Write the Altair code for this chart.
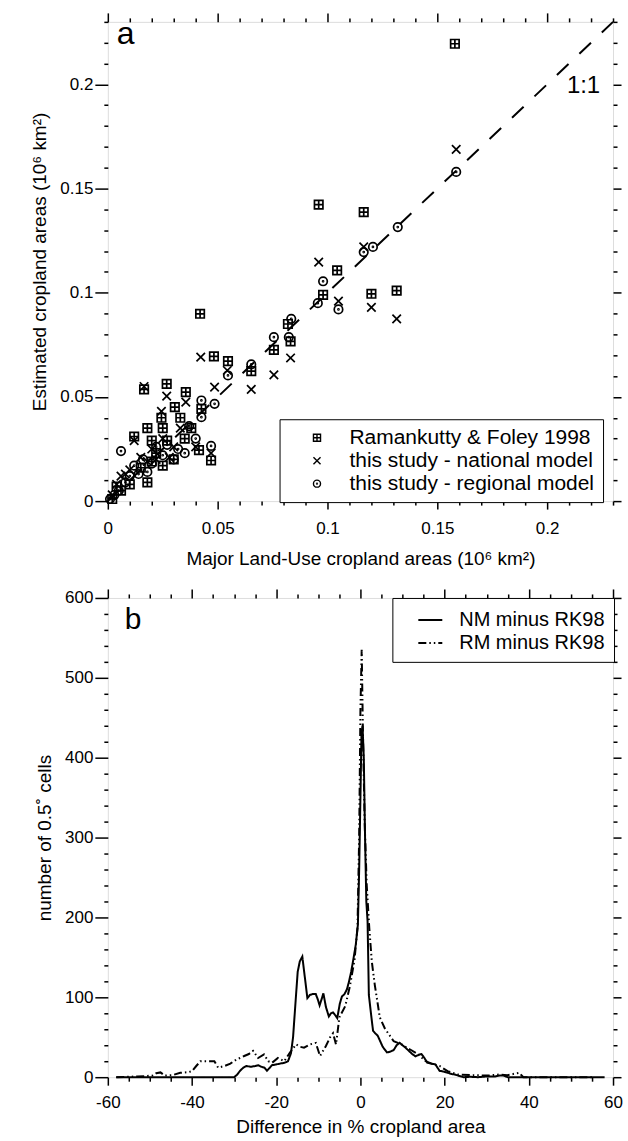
import altair as alt
import pandas as pd

FONT = "Liberation Sans"

# ---------------- Panel a data ----------------
rk_x = [0.158, 0.096, 0.1165, 0.1044, 0.1315, 0.12, 0.098, 0.042, 0.082, 0.0832,
        0.0756, 0.0483, 0.0547, 0.0653, 0.0165, 0.0268, 0.0355, 0.0426, 0.0305, 0.0244,
        0.012, 0.018, 0.02, 0.025, 0.027, 0.0415, 0.047, 0.03, 0.02, 0.018,
        0.01, 0.006, 0.004, 0.002, 0.025, 0.022, 0.035, 0.038, 0.015, 0.033]
rk_y = [0.2195, 0.1423, 0.1387, 0.1107, 0.101, 0.0995, 0.099, 0.0899, 0.085, 0.0767,
        0.0726, 0.0695, 0.0672, 0.0624, 0.0536, 0.0563, 0.0523, 0.0443, 0.0451, 0.040,
        0.031, 0.035, 0.029, 0.035, 0.029, 0.0245, 0.0195, 0.02, 0.019, 0.009,
        0.008, 0.005, 0.007, 0.001, 0.017, 0.023, 0.030, 0.035, 0.016, 0.040]

nat_x = [0.1586, 0.096, 0.1165, 0.105, 0.12, 0.1315, 0.0832, 0.0423, 0.0544, 0.0756,
         0.0486, 0.0653, 0.0268, 0.0355, 0.0244, 0.0165, 0.002, 0.004, 0.006, 0.008,
         0.01, 0.012, 0.015, 0.02, 0.022, 0.025, 0.03, 0.033, 0.04, 0.047,
         0.018, 0.028]
nat_y = [0.1688, 0.1147, 0.122, 0.096, 0.093, 0.0875, 0.0687, 0.0691, 0.0627, 0.0606,
         0.0547, 0.0536, 0.0504, 0.0475, 0.0431, 0.055, 0.003, 0.008, 0.012, 0.013,
         0.015, 0.029, 0.021, 0.025, 0.020, 0.030, 0.026, 0.035, 0.026, 0.023,
         0.019, 0.021]

reg_x = [0.1586, 0.132, 0.1207, 0.1165, 0.098, 0.105, 0.0956, 0.0835, 0.0824, 0.0756,
         0.0653, 0.0547, 0.0426, 0.0486, 0.0426, 0.047, 0.001, 0.003, 0.005, 0.006,
         0.008, 0.01, 0.012, 0.014, 0.016, 0.02, 0.022, 0.025, 0.027, 0.03,
         0.032, 0.035, 0.037, 0.04, 0.018]
reg_y = [0.158, 0.1315, 0.122, 0.1195, 0.1055, 0.092, 0.095, 0.0875, 0.0787, 0.0787,
         0.0656, 0.0603, 0.0483, 0.0467, 0.0403, 0.0265, 0.001, 0.003, 0.005, 0.024,
         0.009, 0.012, 0.017, 0.013, 0.020, 0.018, 0.026, 0.022, 0.027, 0.020,
         0.025, 0.023, 0.036, 0.030, 0.014]

series_a = ["Ramankutty & Foley 1998", "this study - national model", "this study - regional model"]
one_x = [0.0, 0.23]
one_y = [0.0, 0.23]

# ---------------- Panel b data ----------------
nm_x = [-58, -50, -45, -40, -35, -30, -29.3, -28.6, -27.8, -27.1, -26, -25, -24.3, -23.5,
        -22.8, -22.2, -21.5, -21, -20, -19.1, -18, -17.2, -16.5, -16, -15.4, -14.9, -14.4,
        -13.8, -13.2, -12.6, -12, -11.4, -10.6, -10.1, -9.7, -9.2, -8.8, -8.2, -7.5, -7,
        -6.5, -5.9, -5.5, -4.9, -4.4, -3.8, -3.2, -2.7, -2.2, -1.6, -1.1, -0.6, -0.3, 0,
        0.25, 0.5, 0.8, 1.1, 1.4, 1.7, 2.0, 2.5, 3.0, 3.5, 4.1, 4.7, 5.3, 6.3, 7.1, 7.9,
        8.6, 9.3, 10, 10.7, 11.5, 12.3, 13.1, 13.8, 14.5, 15.2, 15.9, 16.8, 17.8, 18.3,
        18.8, 19.8, 20.7, 21.7, 22.6, 23.5, 24.5, 26, 28, 30, 32, 33, 34, 35, 40, 50, 58]
nm_y = [0, 0, 0, 0, 0, 0, 3, 8, 12, 14, 13, 14, 15, 13,
        12, 8, 12, 15, 16, 17, 18, 20, 30, 50, 95, 132, 145,
        151, 125, 99, 103, 104, 104, 97, 90, 98, 105, 88, 76, 80,
        81, 77, 74, 92, 101, 104, 110, 120, 132, 150, 166, 191, 260, 350,
        430, 440, 400, 300, 220, 195, 103, 80, 58, 55, 52, 45, 38, 31, 32, 34,
        40, 43, 40, 37, 33, 29, 26, 28, 29, 24, 18, 17, 16, 12,
        8, 7, 5.5, 4, 3, 1.5, 0, 0.5, 0, 1, 1, 2, 2, 0, 0, 0, 0]

rm_x = [-58, -55, -53, -51.3, -49.4, -48.5, -47.5, -46.5, -44.7, -42.8, -40.9, -40, -39,
        -38, -36.1, -34.7, -33.8, -32.3, -30.9, -29.5, -27.6, -26.5, -25.5, -24.3, -22.9,
        -21.9, -21, -19.6, -18.1, -16.7, -15.3, -14.3, -13.4, -12, -10.6, -9.6, -8.2,
        -7.2, -6.5, -5.8, -5, -3.6, -2.5, -1.4, -0.7, -0.3, 0, 0.3, 0.6, 1, 1.5, 2.1,
        2.7, 3.4, 4.6, 5.8, 7.9, 9.8, 11.7, 13.6, 15.5, 16.9, 18.8, 20.7, 23.1, 26.4,
        30.2, 33, 34.9, 37.7, 38.7, 45, 55]
rm_y = [0, 0.5, 1, 1.3, 2, 5, 6, 2, 2.5, 5.5, 6.3, 7.6, 14,
        20, 20, 20, 12, 14, 17, 22, 26.5, 29, 33, 24, 28.5,
        20, 18, 24, 20, 31, 41, 38, 37, 41, 43, 26.5, 39,
        50, 55, 41, 75, 89, 114, 147, 187, 300, 460, 535, 430, 320, 240, 187,
        145, 116, 75, 61, 45, 41, 35, 29, 20, 17, 14, 7.6, 3.4, 2.5,
        2, 3.4, 2.5, 5.5, 0, 0, 0]

series_b = ["NM minus RK98", "RM minus RK98"]

# ---------------- tick values ----------------
ticks_a = [round(i * 0.01, 2) for i in range(0, 24)]
ticks_bx = list(range(-60, 61, 5))
ticks_by = list(range(0, 601, 20))

MAJ_A = "abs(datum.value*20 - round(datum.value*20)) < 0.001"
MAJ_BX = "datum.value % 20 == 0"
MAJ_BY = "datum.value % 100 == 0"


def axis(orient, values, major, maj=9, mnr=4, labels=True, title=None, label_pad=3, title_pad=8):
    kw = dict(orient=orient, values=values, grid=False, domain=False, ticks=True,
              tickColor="black", tickWidth=1.5,
              tickSize={"condition": {"test": major, "value": maj}, "value": mnr},
              labels=labels)
    if labels:
        kw.update(labelExpr=f"({major}) ? toString(datum.value) : ''",
                  labelFont=FONT, labelFontSize=17, labelColor="black",
                  labelOverlap=False, labelPadding=label_pad, labelFlush=False)
    if title is not None:
        kw.update(title=title, titleFont=FONT, titleFontSize=19, titleFontWeight="normal",
                  titleColor="black", titlePadding=title_pad)
    else:
        kw.update(title=None)
    return alt.Axis(**kw)


# ---------------- Panel a ----------------
W = 506
HA = 480
HB = 480

xa = alt.Scale(domain=[0, 0.23], nice=False, zero=False)
ya = alt.Scale(domain=[0, 0.23], nice=False, zero=False)

df_pts = pd.DataFrame({
    "x": rk_x + nat_x + reg_x,
    "y": rk_y + nat_y + reg_y,
    "series": [series_a[0]] * len(rk_x) + [series_a[1]] * len(nat_x) + [series_a[2]] * len(reg_x),
})
df_one = pd.DataFrame({"x": one_x, "y": one_y})

SQ = "M-1,-1H1V1H-1Z M0,-1V1 M-1,0H1"
XX = "M-1,-1L1,1 M-1,1L1,-1"
CI = "M-1,0A1,1 0 1,1 1,0A1,1 0 1,1 -1,0Z M-0.12,0A0.12,0.12 0 1,1 0.12,0A0.12,0.12 0 1,1 -0.12,0Z"

line11 = alt.Chart(df_one).mark_line(color="black", strokeWidth=2, strokeDash=[16, 15]).encode(
    x=alt.X("x:Q", scale=xa, axis=axis("bottom", ticks_a, MAJ_A, maj=8, title="Major Land-Use cropland areas (10\u2076 km\u00b2)", label_pad=11, title_pad=13)),
    y=alt.Y("y:Q", scale=ya, axis=axis("left", ticks_a, MAJ_A, maj=13, title="Estimated cropland areas (10\u2076 km\u00b2)", label_pad=2, title_pad=10)),
)

pts = alt.Chart(df_pts).mark_point(filled=False, color="black", strokeWidth=1.7, size=72, opacity=1).encode(
    x=alt.X("x:Q", scale=xa, axis=axis("top", ticks_a, MAJ_A, maj=9, labels=False)),
    y=alt.Y("y:Q", scale=ya, axis=axis("right", ticks_a, MAJ_A, maj=8, labels=False)),
    shape=alt.Shape("series:N", scale=alt.Scale(domain=series_a, range=[SQ, XX, CI]),
                    legend=alt.Legend(title=None, orient="none", legendX=172, legendY=398,
                                      direction="vertical", strokeColor="black",
                                      fillColor="white", padding=8, rowPadding=1,
                                      labelFont=FONT, labelFontSize=21, labelColor="black",
                                      labelLimit=400, symbolSize=50, symbolStrokeColor="black",
                                      symbolStrokeWidth=1.4, symbolFillColor="transparent",
                                      symbolOffset=19, labelOffset=22)),
)

ann_a = pd.DataFrame({"x": [0.0041, 0.209], "y": [0.2243, 0.199], "t": ["a", "1:1"], "s": [32, 24]})
txt_a = alt.Chart(ann_a).mark_text(font=FONT, color="black", align="left", baseline="middle").encode(
    x=alt.X("x:Q", scale=xa, axis=None),
    y=alt.Y("y:Q", scale=ya, axis=None),
    text="t:N",
    size=alt.Size("s:Q", scale=None, legend=None),
)

panel_a = alt.layer(line11, pts, txt_a).properties(width=W, height=HA)

# ---------------- Panel b ----------------
xb = alt.Scale(domain=[-60, 60], nice=False, zero=False)
yb = alt.Scale(domain=[0, 600], nice=False)

df_b = pd.DataFrame({
    "x": nm_x + rm_x,
    "y": nm_y + rm_y,
    "series": [series_b[0]] * len(nm_x) + [series_b[1]] * len(rm_x),
    "order": list(range(len(nm_x))) + list(range(len(rm_x))),
})

lines_b = alt.Chart(df_b).mark_line(color="black", strokeWidth=2).encode(
    x=alt.X("x:Q", scale=xb, axis=axis("bottom", ticks_bx, MAJ_BX, maj=8, title="Difference in % cropland area", label_pad=9, title_pad=7)),
    y=alt.Y("y:Q", scale=yb, axis=axis("left", ticks_by, MAJ_BY, maj=13, title="number of 0.5\u02da cells", label_pad=2, title_pad=10)),
    order="order:Q",
    detail="series:N",
    strokeDash=alt.StrokeDash("series:N", scale=alt.Scale(domain=series_b, range=[[1, 0], [8, 3, 1.5, 3, 1.5, 3]]),
                              legend=alt.Legend(title=None, orient="none", legendX=285, legendY=0,
                                                direction="vertical", strokeColor="black",
                                                fillColor="white", padding=9, rowPadding=0,
                                                labelFont=FONT, labelFontSize=20, labelColor="black",
                                                labelLimit=400, symbolType="stroke", symbolSize=576,
                                                symbolStrokeColor="black", symbolStrokeWidth=2,
                                                symbolOffset=16, labelOffset=16)),
)

ann_b = pd.DataFrame({"x": [-56], "y": [572.5], "t": ["b"]})
txt_b = alt.Chart(ann_b).mark_text(font=FONT, color="black", fontSize=30, align="left", baseline="middle").encode(
    x=alt.X("x:Q", scale=xb, axis=axis("top", ticks_bx, MAJ_BX, maj=9, labels=False)),
    y=alt.Y("y:Q", scale=yb, axis=axis("right", ticks_by, MAJ_BY, maj=8, labels=False)),
    text="t:N",
)

panel_b = alt.layer(lines_b, txt_b).properties(width=W, height=HB)

chart = alt.vconcat(panel_a, panel_b, spacing=18).resolve_legend(
    shape="independent", strokeDash="independent"
).properties(
    padding={"left": 30, "top": 10, "right": 5, "bottom": 0}
).configure_view(stroke="black", strokeWidth=2).configure_legend(
    strokeWidth=3.5
).configure(background="white")

chart.save("out.html", embed_options={"renderer": "svg", "actions": False})
